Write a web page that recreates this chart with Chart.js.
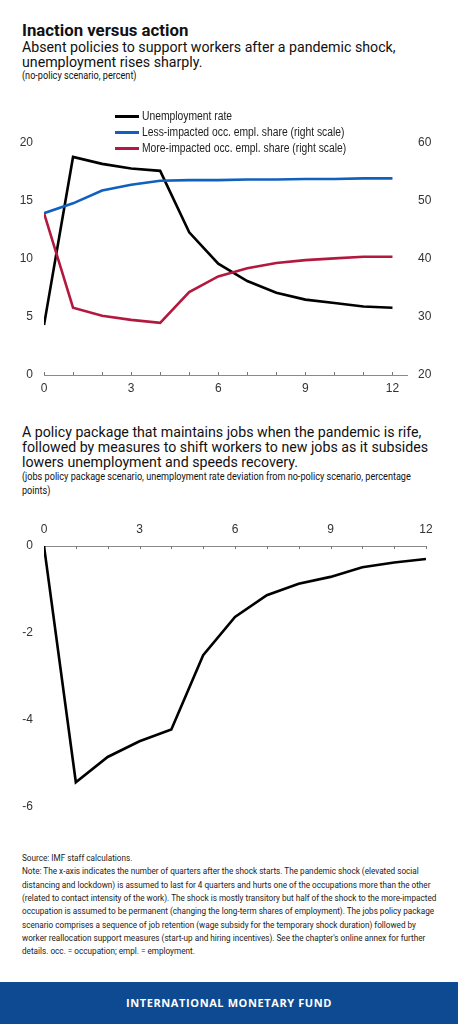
<!DOCTYPE html>
<html>
<head>
<meta charset="utf-8">
<script src="https://cdn.jsdelivr.net/npm/chart.js@4.4.1/dist/chart.umd.min.js"></script>
<style>
  html, body { margin: 0; padding: 0; background: #fff; }
  body { width: 458px; height: 1024px; position: relative; overflow: hidden; font-family: Roboto, "Liberation Sans", sans-serif; color: #111; }
  .ln { position: absolute; left: 22px; white-space: nowrap; transform-origin: left top; }
  .title { font-size: 16.8px; line-height: 16.8px; font-weight: 700; }
  .sub { font-size: 14.2px; line-height: 14.2px; }
  .small { font-size: 10.3px; line-height: 10.3px; transform: scaleX(0.885); }
  .note { font-size: 9.5px; line-height: 9.5px; transform: scaleX(0.86); color: #222; }
  .box { position: absolute; left: 0; width: 458px; }
  .legend { position: absolute; left: 115px; font-family: "Liberation Sans", sans-serif; font-size: 12px; color: #222; }
  .legend div { height: 16px; line-height: 16px; white-space: nowrap; display: flex; align-items: center; }
  .legend span.sw { display: inline-block; width: 24px; height: 3px; margin-right: 3px; }
  .legend span.tx { display: inline-block; transform: scaleX(0.86); transform-origin: left center; }
  .band { position: absolute; left: 0; top: 982px; width: 458px; height: 42px; background: #0d4a92; color: #fff; text-align: center; font-family: "Open Sans", sans-serif; font-weight: 700; font-size: 11px; letter-spacing: 0.6px; line-height: 42px; }
</style>
</head>
<body>

<div class="ln title" style="top:21.8px">Inaction versus action</div>
<div class="ln sub" style="top:39.7px">Absent policies to support workers after a pandemic shock,</div>
<div class="ln sub" style="top:54.7px">unemployment rises sharply.</div>
<div class="ln small" style="top:71.3px">(no-policy scenario, percent)</div>

<div class="box" style="top:100px; height:300px;"><canvas id="inactionChart"></canvas></div>

<div class="legend" style="top:108px">
  <div><span class="sw" style="background:#000"></span><span class="tx">Unemployment rate</span></div>
  <div><span class="sw" style="background:#1060bd"></span><span class="tx">Less-impacted occ. empl. share (right scale)</span></div>
  <div><span class="sw" style="background:#b3193f"></span><span class="tx">More-impacted occ. empl. share (right scale)</span></div>
</div>

<div class="ln sub" style="top:424.7px">A policy package that maintains jobs when the pandemic is rife,</div>
<div class="ln sub" style="top:439.7px">followed by measures to shift workers to new jobs as it subsides</div>
<div class="ln sub" style="top:454.7px">lowers unemployment and speeds recovery.</div>
<div class="ln small" style="top:472.3px">(jobs policy package scenario, unemployment rate deviation from no-policy scenario, percentage</div>
<div class="ln small" style="top:485.6px">points)</div>

<div class="box" style="top:505px; height:325px;"><canvas id="actionChart"></canvas></div>

<div id="notes"></div>

<div class="band">INTERNATIONAL MONETARY FUND</div>

<script>
// Quarters after the shock starts
const quarters = [0, 1, 2, 3, 4, 5, 6, 7, 8, 9, 10, 11, 12];

// No-policy scenario (percent)
const unemploymentRate = [4.3, 18.8, 18.2, 17.8, 17.6, 12.3, 9.6, 8.1, 7.1, 6.5, 6.2, 5.9, 5.8];
const lessImpactedShare = [47.9, 49.6, 51.8, 52.8, 53.5, 53.6, 53.6, 53.7, 53.7, 53.8, 53.8, 53.9, 53.9];
const moreImpactedShare = [47.9, 31.6, 30.2, 29.5, 29.0, 34.3, 37.0, 38.4, 39.3, 39.8, 40.1, 40.4, 40.4];

// Jobs policy package: deviation from no-policy scenario (percentage points)
const unemploymentDeviation = [0, -5.43, -4.85, -4.49, -4.22, -2.51, -1.63, -1.13, -0.87, -0.71, -0.49, -0.38, -0.30];

const xTickLabels = [0, 3, 6, 9, 12];

const noteLines = [
    "Source: IMF staff calculations.",
    "Note: The x-axis indicates the number of quarters after the shock starts. The pandemic shock (elevated social",
    "distancing and lockdown) is assumed to last for 4 quarters and hurts one of the occupations more than the other",
    "(related to contact intensity of the work). The shock is mostly transitory but half of the shock to the more-impacted",
    "occupation is assumed to be permanent (changing the long-term shares of employment). The jobs policy package",
    "scenario comprises a sequence of job retention (wage subsidy for the temporary shock duration) followed by",
    "worker reallocation support measures (start-up and hiring incentives). See the chapter's online annex for further",
    "details. occ. = occupation; empl. = employment."
];

// Notes block
const notesEl = document.getElementById('notes');
noteLines.forEach((line, i) => {
    const div = document.createElement('div');
    div.className = 'ln note';
    div.style.top = (853 + i * 13.33) + 'px';
    div.textContent = line;
    notesEl.appendChild(div);
});

const toPoints = (values) => values.map((v, i) => ({ x: quarters[i], y: v }));

const tickFont = { family: '"Liberation Sans", sans-serif', size: 12 };
const tickColor = '#333';

// Small tick marks at every quarter on the x axis line
const minorTicks = {
    id: 'minorTicks',
    beforeDatasetsDraw(chart, args, opts) {
        const xScale = chart.scales.x;
        const y0 = opts.atTop ? chart.chartArea.top : chart.chartArea.bottom;
        const ctx = chart.ctx;
        ctx.save();
        ctx.strokeStyle = '#777';
        ctx.lineWidth = 1;
        ctx.beginPath();
        quarters.forEach(q => {
            const px = Math.round(xScale.getPixelForValue(q)) + 0.5;
            ctx.moveTo(px, y0);
            ctx.lineTo(px, y0 + opts.length);
        });
        ctx.stroke();
        ctx.restore();
    }
};

const lineDataset = (label, values, color, axis) => ({
    label: label,
    data: toPoints(values),
    borderColor: color,
    backgroundColor: color,
    borderWidth: 2.6,
    pointRadius: 0,
    tension: 0,
    yAxisID: axis
});

// Top chart: no-policy scenario
new Chart(document.getElementById('inactionChart'), {
    type: 'line',
    data: {
        datasets: [
            lineDataset('More-impacted occ. empl. share (right scale)', moreImpactedShare, '#b3193f', 'y1'),
            lineDataset('Less-impacted occ. empl. share (right scale)', lessImpactedShare, '#1060bd', 'y1'),
            lineDataset('Unemployment rate', unemploymentRate, '#000000', 'y')
        ]
    },
    plugins: [minorTicks],
    options: {
        responsive: true,
        maintainAspectRatio: false,
        animation: false,
        layout: { padding: { top: 43, left: 0, right: 0, bottom: 0 } },
        plugins: {
            legend: { display: false },
            tooltip: { enabled: false },
            minorTicks: { atTop: false, length: -3 }
        },
        scales: {
            x: {
                type: 'linear',
                min: 0,
                max: 12.5,
                afterFit: (scale) => { scale.height = 25; },
                afterBuildTicks: (scale) => { scale.ticks = xTickLabels.map(v => ({ value: v })); },
                grid: { display: false, drawTicks: false },
                border: { display: true, color: '#8a8a8a', width: 1 },
                ticks: { font: tickFont, color: tickColor, padding: 6, autoSkip: false, maxRotation: 0 }
            },
            y: {
                position: 'left',
                min: 0,
                max: 20,
                afterFit: (scale) => { scale.width = 44; },
                grid: { display: false, drawTicks: false },
                border: { display: false },
                ticks: { stepSize: 5, font: tickFont, color: tickColor, padding: 11 }
            },
            y1: {
                position: 'right',
                min: 20,
                max: 60,
                afterFit: (scale) => { scale.width = 51; },
                grid: { display: false, drawTicks: false },
                border: { display: false },
                ticks: { stepSize: 10, font: tickFont, color: tickColor, padding: 11 }
            }
        }
    }
});

// Bottom chart: jobs policy package
new Chart(document.getElementById('actionChart'), {
    type: 'line',
    data: {
        datasets: [
            lineDataset('Unemployment rate deviation', unemploymentDeviation, '#000000', 'y')
        ]
    },
    plugins: [minorTicks],
    options: {
        responsive: true,
        maintainAspectRatio: false,
        animation: false,
        layout: { padding: { top: 0, left: 0, right: 32, bottom: 23 } },
        plugins: {
            legend: { display: false },
            tooltip: { enabled: false },
            minorTicks: { atTop: true, length: 3 }
        },
        scales: {
            x: {
                type: 'linear',
                position: 'top',
                min: 0,
                max: 12,
                afterFit: (scale) => { scale.height = 41; },
                afterBuildTicks: (scale) => { scale.ticks = xTickLabels.map(v => ({ value: v })); },
                grid: { display: false, drawTicks: false },
                border: { display: true, color: '#8a8a8a', width: 1 },
                ticks: { font: tickFont, color: tickColor, padding: 9, autoSkip: false, maxRotation: 0 }
            },
            y: {
                position: 'left',
                min: -6,
                max: 0,
                afterFit: (scale) => { scale.width = 44; },
                grid: { display: false, drawTicks: false },
                border: { display: false },
                ticks: { stepSize: 2, font: tickFont, color: tickColor, padding: 11 }
            }
        }
    }
});
</script>
</body>
</html>
